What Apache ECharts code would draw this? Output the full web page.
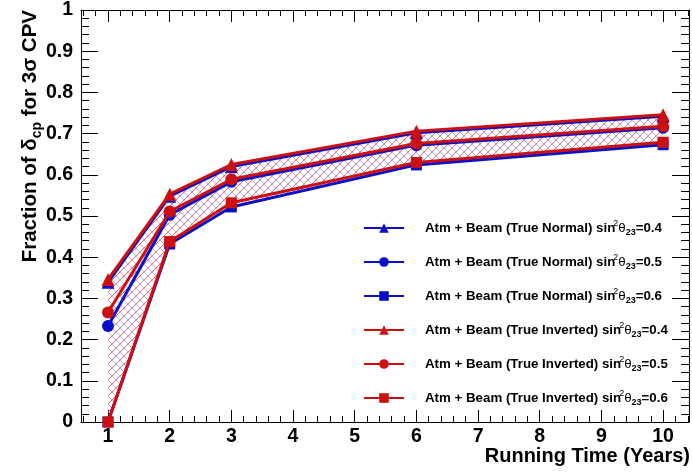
<!DOCTYPE html>
<html>
<head>
<meta charset="utf-8">
<script src="https://cdn.jsdelivr.net/npm/echarts@6/dist/echarts.min.js"></script>
<style>
  html, body { margin: 0; padding: 0; background: #fff; }
  #chart { width: 692px; height: 473px; }
</style>
</head>
<body>
<div id="chart"></div>
<script>
// running time in years
const years = [1, 2, 3, 6, 10]

// fraction of delta_cp with 3 sigma CPV
const normal04 = [0.339, 0.548, 0.620, 0.702, 0.742]
const normal05 = [0.233, 0.503, 0.583, 0.672, 0.714]
const normal06 = [0, 0.432, 0.522, 0.624, 0.673]
const inverted04 = [0.346, 0.553, 0.625, 0.706, 0.746]
const inverted05 = [0.266, 0.511, 0.589, 0.676, 0.718]
const inverted06 = [0, 0.438, 0.532, 0.630, 0.679]

const hierarchies = ['Normal', 'Normal', 'Normal', 'Inverted', 'Inverted', 'Inverted']
const thetaValues = ['0.4', '0.5', '0.6', '0.4', '0.5', '0.6']
const yTicks = ['0', '0.1', '0.2', '0.3', '0.4', '0.5', '0.6', '0.7', '0.8', '0.9', '1']

const BLUE = '#0b10c8'
const RED = '#cc1010'

const allSeries = [normal04, normal05, normal06, inverted04, inverted05, inverted06]
const symbols = ['triangle', 'circle', 'rect', 'triangle', 'circle', 'rect']
const sizes = [13, 12, 11, 13, 12, 11]

const seriesName = i => 'Atm + Beam (True ' + hierarchies[i] + ') sin2θ23=' + thetaValues[i]

// cross-hatch fill for the band, drawn pixel by pixel so it stays crisp
const makeHatch = () => {
  const c = document.createElement('canvas')
  c.width = 8
  c.height = 8
  const ctx = c.getContext('2d')
  ctx.fillStyle = 'rgba(120,120,240,0.55)'
  for (let i = 0; i < 8; i++) ctx.fillRect(i, i, 1, 1)
  ctx.fillStyle = 'rgba(240,85,85,0.9)'
  for (let i = 0; i < 8; i++) ctx.fillRect(7 - i, i, 1, 1)
  return c
}
const hatch = makeHatch()

// band between the highest and lowest curves
const upper = years.map((_, i) => Math.max(normal04[i], inverted04[i]))
const lower = years.map((_, i) => Math.min(normal06[i], inverted06[i]))

const chart = echarts.init(document.getElementById('chart'), null, { renderer: 'canvas' })

const tickStyle = { color: '#000', width: 1 }
const font = 'Liberation Sans, Arial, Helvetica, sans-serif'

const xBase = {
  type: 'value',
  min: 0.562,
  max: 10.42,
  splitNumber: 10,
  splitLine: { show: false },
  axisLine: { show: true, onZero: false, lineStyle: tickStyle },
  axisTick: { show: true, inside: true, length: 12, lineStyle: tickStyle },
  minorTick: { show: true, splitNumber: 5, length: 6, lineStyle: tickStyle }
}
const yBase = {
  type: 'value',
  min: 0,
  max: 1,
  interval: 0.1,
  splitLine: { show: false },
  axisLine: { show: true, onZero: false, lineStyle: tickStyle },
  axisTick: { show: true, inside: true, length: 17, lineStyle: tickStyle },
  minorTick: { show: true, splitNumber: 5, length: 8, lineStyle: tickStyle }
}

const lineSeries = allSeries.map((vals, i) => ({
  name: seriesName(i),
  type: 'line',
  data: years.map((x, j) => [x, vals[j]]),
  symbol: symbols[i],
  symbolSize: sizes[i],
  showAllSymbol: true,
  lineStyle: { width: 3, color: i < 3 ? BLUE : RED },
  itemStyle: { color: i < 3 ? BLUE : RED },
  z: 3 + i
}))

const option = {
  animation: false,
  backgroundColor: '#fff',
  grid: { left: 81, right: 3, top: 8, bottom: 51, show: false },
  xAxis: [
    Object.assign({}, xBase, {
      position: 'bottom',
      axisLabel: {
        show: true, margin: 5, showMinLabel: false, showMaxLabel: false,
        fontSize: 19.5, fontWeight: 'bold', color: '#000', fontFamily: font
      }
    }),
    Object.assign({}, xBase, { position: 'top', axisLabel: { show: false } })
  ],
  yAxis: [
    Object.assign({}, yBase, {
      position: 'left',
      axisLabel: {
        show: true, margin: 8, fontSize: 19.5, fontWeight: 'bold', color: '#000', fontFamily: font,
        formatter: (v, idx) => yTicks[idx]
      }
    }),
    Object.assign({}, yBase, { position: 'right', axisLabel: { show: false } })
  ],
  legend: {
    orient: 'vertical',
    left: 358,
    top: 214,
    itemWidth: 40,
    itemHeight: 12,
    itemGap: 16,
    data: allSeries.map((_, i) => seriesName(i)),
    formatter: name => {
      const i = allSeries.findIndex((_, k) => seriesName(k) === name)
      return '{b|Atm + Beam (True ' + hierarchies[i] + ') sin}{sup|2}{t|θ}{sub|23}{b|=' + thetaValues[i] + '}'
    },
    textStyle: {
      padding: [0, 0, 0, 16],
      rich: {
        b: { fontSize: 13.3, fontWeight: 'bold', color: '#000', fontFamily: font, lineHeight: 18 },
        sup: { fontSize: 9, color: '#000', fontFamily: font, verticalAlign: 'top', lineHeight: 18, padding: [0, 0, 0, -2] },
        t: { fontSize: 13.3, color: '#000', fontFamily: font, lineHeight: 18 },
        sub: { fontSize: 9, fontWeight: 'bold', color: '#000', fontFamily: font, verticalAlign: 'bottom', lineHeight: 18 }
      }
    }
  },
  graphic: [
    {
      type: 'text',
      x: 30,
      y: 10,
      rotation: Math.PI / 2,
      style: {
        text: '{b|Fraction of δ}{s|cp}{b| for 3σ CPV}',
        align: 'right',
        verticalAlign: 'middle',
        rich: {
          b: { fontSize: 20.5, fontWeight: 'bold', fill: '#000', fontFamily: font, lineHeight: 28 },
          s: { fontSize: 14, fontWeight: 'bold', fill: '#000', fontFamily: font, verticalAlign: 'bottom', lineHeight: 28 }
        }
      }
    },
    {
      type: 'text',
      x: 690,
      y: 456,
      style: {
        text: 'Running Time (Years)',
        align: 'right',
        verticalAlign: 'middle',
        font: 'bold 20px ' + font,
        fill: '#000'
      }
    }
  ],
  series: [
    {
      type: 'custom',
      name: 'band',
      data: [0],
      z: 1,
      silent: true,
      renderItem: (params, api) => {
        const pts = []
        years.forEach((x, i) => pts.push(api.coord([x, upper[i]])))
        for (let i = years.length - 1; i >= 0; i--) pts.push(api.coord([years[i], lower[i]]))
        return {
          type: 'polygon',
          shape: { points: pts },
          style: { fill: { image: hatch, repeat: 'repeat' }, stroke: null }
        }
      }
    }
  ].concat(lineSeries)
}

chart.setOption(option)
</script>
</body>
</html>
